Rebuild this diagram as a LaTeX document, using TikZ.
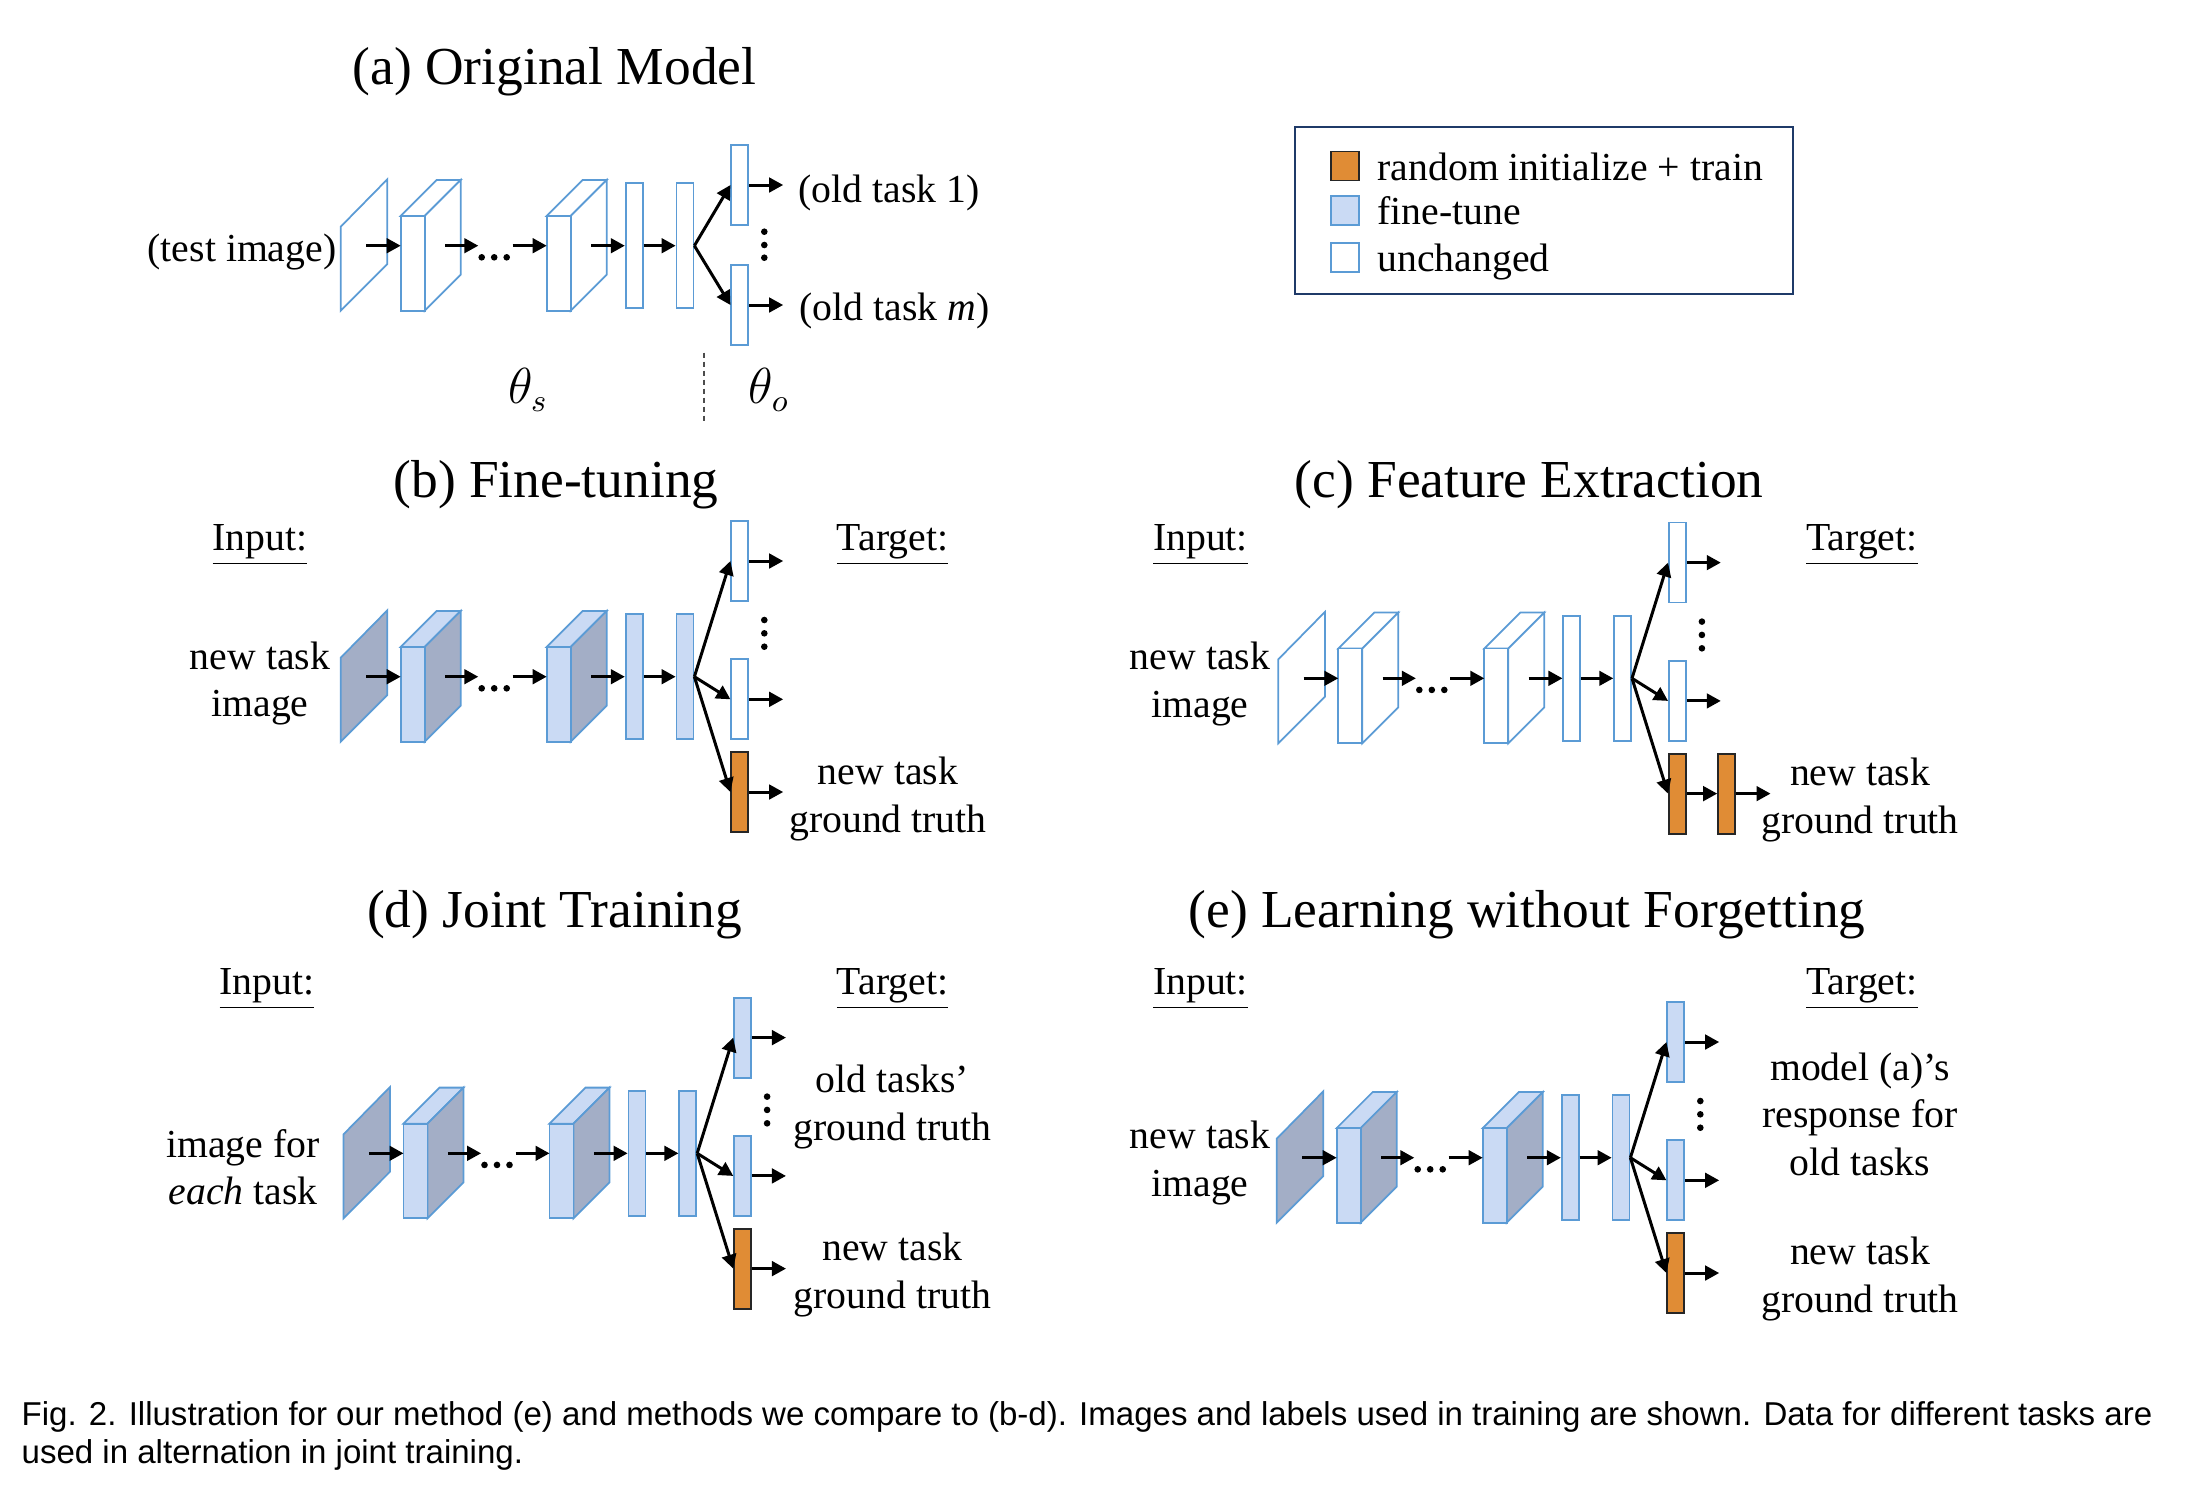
\documentclass[tikz,border=0pt]{standalone}
\usepackage{fontspec}
\setmainfont{Liberation Serif}
\newfontfamily\capfont{Liberation Sans}
\usepackage{xcolor}
\usepackage{tikz}
\usetikzlibrary{arrows.meta,positioning}
\definecolor{netblue}{HTML}{5B9BD5}
\definecolor{tuneblue}{HTML}{CADAF4}
\definecolor{shadegray}{HTML}{A3AEC6}
\definecolor{neworange}{HTML}{E08C35}
\definecolor{legendnavy}{HTML}{1F3A68}
\tikzset{
    keep/.style={draw=netblue, line width=0.5pt, fill=white},
    tune/.style={draw=netblue, line width=0.5pt, fill=tuneblue},
    shade/.style={draw=netblue, line width=0.5pt, fill=shadegray},
    fresh/.style={draw=black!85, line width=0.5pt, fill=neworange},
    layer/.style={rectangle, inner sep=0pt, minimum width=1.7mm},
    fcbar/.style={layer, minimum height=12.5mm},
    headbar/.style={layer, minimum height=8mm},
    keybox/.style={rectangle, inner sep=0pt, minimum width=2.8mm, minimum height=2.9mm},
    flow/.style={-{Triangle[length=1.4mm,width=1.45mm]}, line width=0.85pt},
    lab/.style={font=\fontsize{11.3}{13.5}\selectfont, align=center, inner sep=0pt},
    keytext/.style={lab, text height=2.6mm, text depth=0.8mm, yshift=-0.5mm},
    ttl/.style={font=\fontsize{15.2}{18}\selectfont, inner sep=0pt},
    split/.style={draw=black!70, line width=0.4pt, dash pattern=on 0.5mm off 0.4mm}
}
% #1 prefix, #2 front faces, #3 side faces
\newcommand{\backbone}[3]{
        \draw[#3] (0,65) -- (0,-19) -- (46.6,-66.4) -- (46.6,18.3) -- cycle;
        \foreach \bx in {60,206} {
            \draw[#2] (\bx,-29.7) -- (\bx+36,-65.7) -- (\bx+60,-65.7) -- (\bx+24,-29.7) -- cycle;
            \draw[#3] (\bx+24,-29.7) -- (\bx+60,-65.7) -- (\bx+60,29) -- (\bx+24,65) -- cycle;
            \draw[#2] (\bx,-29.7) rectangle (\bx+24,65);
        }
        \foreach \dx in {141,153.5,166} \fill (\dx,11.6) circle[radius=0.33mm];
        \node[fcbar,#2] (#1fc1) at (293.5,0) {};
        \node[fcbar,#2] (#1fc2) at (344.3,0) {};
        \coordinate (#1img) at (25.3,0);
        \coordinate (#1c1in) at (60,0);
        \coordinate (#1c1out) at (104.3,0);
        \coordinate (#1gapl) at (137.6,0);
        \coordinate (#1gapr) at (172,0);
        \coordinate (#1c2in) at (206,0);
        \coordinate (#1c2out) at (250.3,0);
        \draw[flow] (#1img) -- (#1c1in);
        \draw[flow] (#1c1out) -- (#1gapl);
        \draw[flow] (#1gapr) -- (#1c2in);
        \draw[flow] (#1c2out) -- (#1fc1);
        \draw[flow] (#1fc1) -- (#1fc2);
}
% #1 prefix, #2 old task heads
\newcommand{\threeheads}[2]{
        \node[headbar,#2] (#1h1) at (399.1,-115.7) {};
        \node[headbar,#2] (#1h2) at (399.1,22.6) {};
        \node[headbar,fresh] (#1hn) at (399.1,115.3) {};
        \foreach \dy in {-56.7,-43.4,-30} \fill (423.6,\dy) circle[radius=0.33mm];
        \coordinate[right=3.4mm of #1h1.east] (#1o1);
        \coordinate[right=3.4mm of #1h2.east] (#1o2);
        \draw[flow] (#1fc2.east) -- (#1h1.west);
        \draw[flow] (#1fc2.east) -- (#1h2.west);
        \draw[flow] (#1fc2.east) -- (#1hn.west);
        \draw[flow] (#1h1) -- (#1o1);
        \draw[flow] (#1h2) -- (#1o2);
}

\begin{document}
\begin{tikzpicture}[x=0.1mm, y=-0.1mm]
        \useasboundingbox (0,0) rectangle (2190,1496);

        \begin{scope}[shift={(340.7,245.7)}]
            \backbone{a}{keep}{keep}
            \node[headbar,keep] (ah1) at (399.1,-60.7) {};
            \node[headbar,keep] (ahm) at (399.1,59.3) {};
            \foreach \dy in {-14,-0.7,12} \fill (423.6,\dy) circle[radius=0.33mm];
            \coordinate[right=3.4mm of ah1.east] (ao1);
            \coordinate[right=3.4mm of ahm.east] (aom);
            \draw[flow] (afc2.east) -- (ah1.west);
            \draw[flow] (afc2.east) -- (ahm.west);
            \draw[flow] (ah1) -- (ao1);
            \draw[flow] (ahm) -- (aom);
        \end{scope}
        \begin{scope}[shift={(340.7,676.7)}]
            \backbone{b}{tune}{shade}
            \threeheads{b}{keep}
            \coordinate[right=3.4mm of bhn.east] (bo3);
            \draw[flow] (bhn) -- (bo3);
        \end{scope}
        \begin{scope}[shift={(1278.3,678.3)}]
            \backbone{c}{keep}{keep}
            \threeheads{c}{keep}
            \node[headbar,fresh,right=3.04mm of chn] (chx) {};
            \coordinate[right=3.46mm of chx.east] (co3);
            \draw[flow] (chn) -- (chx);
            \draw[flow] (chx) -- (co3);
        \end{scope}
        \begin{scope}[shift={(343.5,1153.3)}]
            \backbone{d}{tune}{shade}
            \threeheads{d}{tune}
            \coordinate[right=3.4mm of dhn.east] (do3);
            \draw[flow] (dhn) -- (do3);
        \end{scope}
        \begin{scope}[shift={(1276.7,1157.7)}]
            \backbone{e}{tune}{shade}
            \threeheads{e}{tune}
            \coordinate[right=3.4mm of ehn.east] (eo3);
            \draw[flow] (ehn) -- (eo3);
        \end{scope}

        \node[ttl] (titlea) at (554.5,71.5) {(a) Original Model};
        \node[ttl] (titleb) at (556,485) {(b) Fine-tuning};
        \node[ttl] (titlec) at (1529,485) {(c) Feature Extraction};
        \node[ttl] (titled) at (554.5,915) {(d) Joint Training};
        \node[ttl] (titlee) at (1527,915) {(e) Learning without Forgetting};

        \node[lab,anchor=east] (testimg) at (337,252) {(test image)};
        \node[lab,anchor=west] (oldone) at (798,192.5) {(old task 1)};
        \node[lab,anchor=west] (oldm) at (799,311) {(old task \textit{m})};
        \draw[split] (704,352.7) -- (704,421.7);
        \node[lab,font=\fontsize{13.5}{15}\selectfont] (thetas) at (528,390) {$\theta_s$};
        \node[lab,font=\fontsize{13.5}{15}\selectfont] (thetao) at (769,390) {$\theta_o$};

        \node[lab] (inb) at (260,545) {\underline{Input:}};
        \node[lab] (tgb) at (892.5,545) {\underline{Target:}};
        \node[lab] (inc) at (1200.5,545) {\underline{Input:}};
        \node[lab] (tgc) at (1862,545) {\underline{Target:}};
        \node[lab] (ind) at (267,989) {\underline{Input:}};
        \node[lab] (tgd) at (892.5,989) {\underline{Target:}};
        \node[lab] (ine) at (1200.5,989) {\underline{Input:}};
        \node[lab] (tge) at (1862,989) {\underline{Target:}};

        \node[lab] (imgb) at (260,683.5) {new task\\image};
        \node[lab] (imgc) at (1200,684) {new task\\image};
        \node[lab] (imgd) at (243,1167) {image for\\\textit{each} task};
        \node[lab] (imge) at (1200,1163) {new task\\image};
        \node[lab] (gtb) at (888,799) {new task\\ground truth};
        \node[lab] (gtc) at (1860,800) {new task\\ground truth};
        \node[lab] (oldd) at (892.5,1107) {old tasks’\\ground truth};
        \node[lab] (gtd) at (892.5,1275) {new task\\ground truth};
        \node[lab] (olde) at (1860,1114) {model (a)’s\\response for\\old tasks};
        \node[lab] (gte) at (1860,1279) {new task\\ground truth};

        \draw[legendnavy, line width=0.6pt] (1295,127) rectangle (1793,294);
        \node[keybox,fresh] (keyrand) at (1345,166) {};
        \node[keybox,tune] (keytune) at (1345,210.5) {};
        \node[keybox,keep] (keykeep) at (1345,257.8) {};
        \node[keytext,right=1.7mm of keyrand] (txtrand) {random initialize + train};
        \node[keytext,right=1.7mm of keytune] (txttune) {fine-tune};
        \node[keytext,right=1.7mm of keykeep] (txtkeep) {unchanged};

        \node[font=\capfont\fontsize{9.4}{10.7}\selectfont, align=left, anchor=north west, inner sep=0pt] (caption) at (21,1401)
            {Fig. 2. Illustration for our method (e) and methods we compare to (b-d). Images and labels used in training are shown. Data for different tasks are\\used in alternation in joint training.};
\end{tikzpicture}
\end{document}
